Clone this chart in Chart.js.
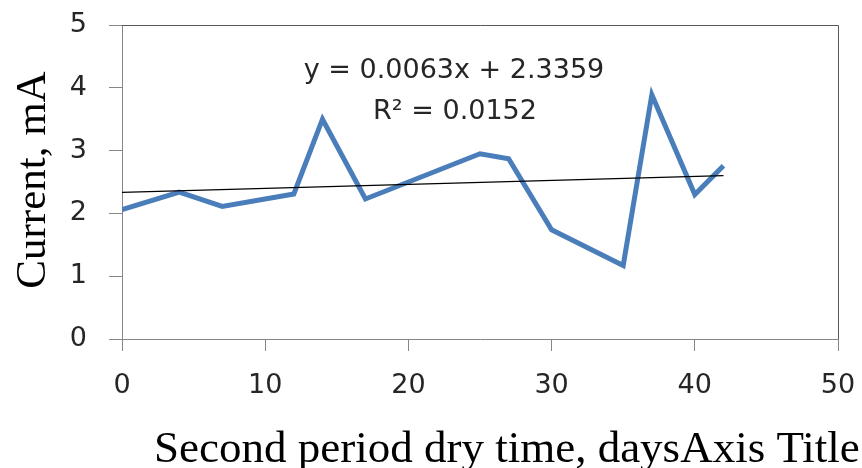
<!DOCTYPE html>
<html>
<head>
<meta charset="utf-8">
<script src="https://cdn.jsdelivr.net/npm/chart.js@4.4.1/dist/chart.umd.min.js"></script>
<style>
  html, body { margin: 0; padding: 0; background: #ffffff; }
  #wrap { width: 862px; height: 468px; }
</style>
</head>
<body>
<div id="wrap"><canvas id="c" width="862" height="468"></canvas></div>
<script>
// ---- data ----
const dryDays = [0, 4, 7, 12, 14, 17, 25, 27, 30, 35, 37, 40, 42];
const currentMA = [2.06, 2.34, 2.11, 2.31, 3.50, 2.23, 2.95, 2.87, 1.74, 1.17, 3.89, 2.30, 2.76];
const trendDays = [0, 42];
const trendMA = [2.336, 2.601];
const xTicks = [0, 10, 20, 30, 40, 50];
const yTicks = [0, 1, 2, 3, 4, 5];
const xTitle = 'Second period dry time, daysAxis Title';
const yTitle = 'Current, mA';
const eqLine1 = 'y = 0.0063x + 2.3359';
const eqLine2 = 'R\u00B2 = 0.0152';

const seriesPts = dryDays.map((d, i) => ({ x: d, y: currentMA[i] }));
const trendPts = trendDays.map((d, i) => ({ x: d, y: trendMA[i] }));

const AXIS_GREY = '#868686';
const BOX_GREY = '#595959';

const decor = {
  id: 'decor',
  afterDraw(chart) {
    const { ctx, chartArea: a } = chart;
    ctx.save();
    // top and right border of plot box
    ctx.strokeStyle = BOX_GREY;
    ctx.lineWidth = 1;
    ctx.beginPath();
    ctx.moveTo(a.left, a.top + 0.5);
    ctx.lineTo(a.right + 0.5, a.top + 0.5);
    ctx.lineTo(a.right + 0.5, a.bottom);
    ctx.stroke();
    // equation text
    ctx.fillStyle = '#262626';
    ctx.font = '27px "DejaVu Sans"';
    ctx.textAlign = 'center';
    ctx.textBaseline = 'alphabetic';
    ctx.fillText(eqLine1, 454, 78);
    ctx.fillText(eqLine2, 455, 119);
    // axis titles
    ctx.fillStyle = '#000000';
    ctx.font = '45px "Liberation Serif"';
    ctx.textAlign = 'left';
    ctx.fillText(xTitle, 154, 462);
    ctx.translate(45, 180);
    ctx.rotate(-Math.PI / 2);
    ctx.textAlign = 'center';
    ctx.font = '43px "Liberation Serif"';
    ctx.fillText(yTitle, 0, 0);
    ctx.restore();
  }
};

new Chart(document.getElementById('c'), {
  type: 'scatter',
  data: {
    datasets: [
      {
        data: seriesPts,
        showLine: true,
        borderColor: '#4A7EBB',
        backgroundColor: '#4A7EBB',
        borderWidth: 5,
        pointRadius: 0,
        tension: 0,
        borderJoinStyle: 'miter',
        order: 2
      },
      {
        data: trendPts,
        showLine: true,
        borderColor: '#000000',
        borderWidth: 1.2,
        pointRadius: 0,
        tension: 0,
        order: 1
      }
    ]
  },
  options: {
    responsive: false,
    animation: false,
    devicePixelRatio: 1,
    layout: { padding: { left: 0, right: 24, top: 25, bottom: 0 } },
    plugins: { legend: { display: false }, tooltip: { enabled: false } },
    scales: {
      x: {
        type: 'linear',
        min: 0, max: 50,
        afterBuildTicks: (s) => { s.ticks = xTicks.map(v => ({ value: v })); },
        afterFit: (s) => { s.height = 129; s.paddingLeft = 0; s.paddingRight = 0; },
        grid: { display: true, drawOnChartArea: false, drawTicks: true, tickLength: 12, color: AXIS_GREY },
        border: { display: true, color: AXIS_GREY, width: 1 },
        ticks: { color: '#262626', font: { family: 'DejaVu Sans', size: 27 }, padding: 19, maxRotation: 0 }
      },
      y: {
        type: 'linear',
        min: 0, max: 5,
        afterBuildTicks: (s) => { s.ticks = yTicks.map(v => ({ value: v })); },
        afterFit: (s) => { s.width = 122; s.paddingTop = 0; s.paddingBottom = 0; },
        grid: { display: true, drawOnChartArea: false, drawTicks: true, tickLength: 13, color: AXIS_GREY },
        border: { display: true, color: AXIS_GREY, width: 1 },
        ticks: { color: '#262626', font: { family: 'DejaVu Sans', size: 27 }, padding: 22 }
      }
    }
  },
  plugins: [decor]
});
</script>
</body>
</html>
